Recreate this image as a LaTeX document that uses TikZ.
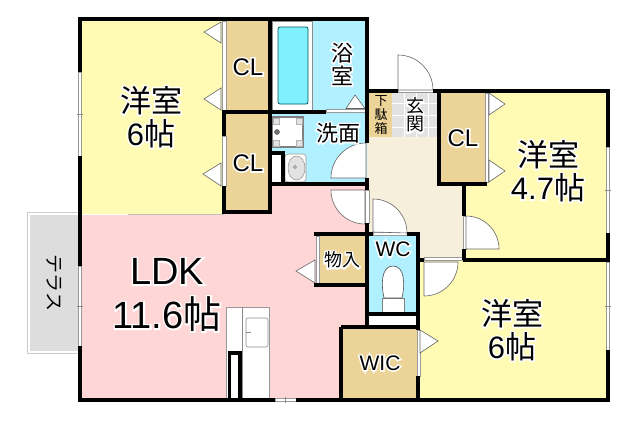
\documentclass[tikz,border=0pt]{standalone}
\usepackage{fontspec}
\setmainfont{Liberation Sans}
\newfontfamily\cjk{Noto Sans CJK JP}
\usetikzlibrary{backgrounds}
\pgfdeclarelayer{filllayer}
\pgfdeclarelayer{doorlayer}
\pgfdeclarelayer{walllayer}
\pgfsetlayers{filllayer,doorlayer,walllayer,main}
\newcommand{\lb}[1]{\leavevmode\rlap{\special{pdf:code q 1 Tr 1 1 1 RG 3 w}#1\special{pdf:code Q}}#1}
\definecolor{roomyellow}{RGB}{255,250,180}
\definecolor{ldkpink}{RGB}{255,214,214}
\definecolor{cltan}{RGB}{236,211,152}
\definecolor{wetblue}{RGB}{176,240,255}
\definecolor{tubblue}{RGB}{128,240,255}
\definecolor{hallcream}{RGB}{246,239,220}
\definecolor{tilegray}{RGB}{226,226,226}
\definecolor{terracegray}{RGB}{221,221,221}
\tikzstyle{none}=[inner sep=0pt,outer sep=0pt,align=center]
\tikzstyle{wall}=[line width=4pt,line cap=butt,line join=miter,black]
\tikzstyle{door}=[fill=white,draw=black!60,line width=0.6pt]
\tikzstyle{strip}=[fill=white,draw=black!40,line width=0.6pt]
\tikzstyle{thinline}=[draw=black!45,line width=0.6pt]
\tikzstyle{bigtext}=[none,font=\fontsize{31}{33}\selectfont]
\tikzstyle{cltext}=[none,font=\fontsize{24}{24}\selectfont]

\begin{document}
\begin{tikzpicture}[x=1pt,y=-1pt]
	\useasboundingbox (0,0) rectangle (640,421);
	\begin{pgfonlayer}{filllayer}
		\fill[roomyellow] (80,19) rectangle (224,214);
		\fill[ldkpink] (80,215) -- (224,215) -- (224,212) -- (270,212) -- (270,184) -- (367,184) -- (367,327) -- (341,327) -- (341,400) -- (80,400) -- cycle;
		\fill[wetblue] (270,19) rectangle (367,184);
		\fill[hallcream] (367,137) -- (439,137) -- (439,184) -- (464,184) -- (464,260) -- (418,260) -- (418,234) -- (367,234) -- cycle;
		\fill[cltan] (367,91) rectangle (392,137);
		\fill[tilegray] (392,91) rectangle (439,137);
		\foreach \tx in {404,416,428}
			\draw[white,line width=0.5pt] (\tx,93) -- (\tx,137);
		\foreach \ty in {103,115,127}
			\draw[white,line width=0.5pt] (392,\ty) -- (437,\ty);
		\fill[roomyellow] (464,184) -- (487,184) -- (487,91) -- (608,91) -- (608,260) -- (464,260) -- cycle;
		\fill[roomyellow] (418,260) rectangle (608,400);
		\fill[cltan] (224,19) rectangle (270,110);
		\fill[cltan] (224,112) rectangle (270,212);
		\fill[cltan] (439,91) rectangle (487,184);
		\fill[cltan] (316,234) rectangle (367,285);
		\fill[cltan] (341,327) rectangle (418,400);
		\fill[wetblue] (367,234) rectangle (418,314);
		\fill[white] (367,314) rectangle (418,327);
		\filldraw[fill=white,draw=black!20,line width=0.6pt] (27.5,212.5) rectangle (78,353.5);
		\fill[terracegray] (30,215) rectangle (78,351);
		\draw[black!25,line width=0.6pt] (128,214.5) -- (224,214.5);
	\end{pgfonlayer}
	\begin{pgfonlayer}{doorlayer}
		\filldraw[fill=white,draw=black!45,line width=0.6pt] (272,21) rectangle (312,110);
		\filldraw[fill=tubblue,draw=teal!70!black,line width=0.8pt,rounded corners=2pt] (278,27) rectangle (308,104);
		\filldraw[strip] (326,109.5) rectangle (365,112);
		\filldraw[door] (346,108.5) -- (355,95) -- (365,108.5) -- cycle;
		\filldraw[fill=white,draw=black!50,line width=1.2pt] (272.5,117) rectangle (303,147);
		\foreach \px/\py in {273/118,296/118,273/140,296/140}
			\filldraw[fill=tilegray,draw=black!30,line width=0.4pt] (\px,\py) rectangle +(6,6);
		\filldraw[fill=black!55,draw=black!70,line width=0.4pt] (277,132) circle (2.5);
		\fill[white] (272,155) rectangle (282,182);
		\filldraw[fill=white,draw=black!40,line width=0.6pt,rounded corners=3pt] (285,154) rectangle (306,182);
		\filldraw[fill=tilegray,draw=black!45,line width=0.5pt] (296.5,168) ellipse (8.5 and 12);
		\draw[black!55,line width=0.5pt] (295,167) circle (1.5);
		\filldraw[strip] (222,21) rectangle (226,110);
		\filldraw[strip] (222,136) rectangle (226,186);
		\filldraw[door] (221,22) -- (204,32) -- (221,43) -- cycle;
		\filldraw[door] (221,88) -- (204,99) -- (221,110) -- cycle;
		\filldraw[door] (221,163) -- (203,174) -- (221,186) -- cycle;
		\filldraw[strip] (485,93) rectangle (488,182);
		\filldraw[door] (489,93) -- (505,104) -- (489,115) -- cycle;
		\filldraw[door] (489,160) -- (505,171) -- (489,182) -- cycle;
		\filldraw[strip] (316,236) rectangle (319,284);
		\filldraw[door] (315,260) -- (296,271) -- (315,283) -- cycle;
		\filldraw[strip] (417,330) rectangle (420,376);
		\filldraw[door] (420,330) -- (438,341) -- (420,353) -- cycle;
		\filldraw[strip] (398,89) rectangle (433,92);
		\filldraw[door] (398,55) arc[start angle=270,end angle=360,radius=35] -- (398,90) -- cycle;
		\filldraw[door] (366,143) -- (366,178) -- (331,178) arc[start angle=180,end angle=270,radius=35] -- cycle;
		\filldraw[strip] (365.5,190) rectangle (369,223);
		\filldraw[door] (331,190) arc[start angle=180,end angle=90,radius=34] -- (365,190) -- cycle;
		\filldraw[strip] (373,232) rectangle (407,235);
		\filldraw[door] (373,199) arc[start angle=270,end angle=360,radius=34] -- (373,232) -- cycle;
		\filldraw[strip] (463,216) rectangle (466,249);
		\filldraw[door] (466,216) arc[start angle=270,end angle=360,radius=33] -- (466,249) -- cycle;
		\filldraw[strip] (424,257) rectangle (463,260);
		\filldraw[door] (458,262) arc[start angle=0,end angle=90,radius=34] -- (424,262) -- cycle;
		\filldraw[strip] (78.5,72) rectangle (81.5,156);
		\draw[thinline] (77,114) -- (83,114);
		\filldraw[strip] (78.5,266) rectangle (81.5,346);
		\draw[thinline] (77,306) -- (83,306);
		\filldraw[strip] (606.5,147) rectangle (609.5,233);
		\draw[thinline] (605,190) -- (611,190);
		\filldraw[strip] (606.5,262) rectangle (609.5,350);
		\draw[thinline] (605,306) -- (611,306);
		\filldraw[strip] (275,398.5) rectangle (296,401.5);
		\draw[thinline] (285.5,397) -- (285.5,403);
		\filldraw[fill=white,draw=black!40,line width=0.6pt] (226,307) rectangle (269,398);
		\draw[thinline] (242,307) -- (242,398);
		\draw[thinline,rounded corners=2pt] (246,318) rectangle (268,347);
		\draw[thinline] (246,332.5) -- (251,332.5);
		\filldraw[fill=white,draw=black!50,line width=0.6pt] (382,298) -- (382,312) -- (404,312) -- (404,298) -- cycle;
		\filldraw[fill=white,draw=black!70,line width=0.6pt] (384,298) .. controls (381,285) and (381,266) .. (393,266) .. controls (405,266) and (405,285) .. (402,298) -- cycle;
	\end{pgfonlayer}
	\begin{pgfonlayer}{walllayer}
		\draw[wall] (80,72) -- (80,19) -- (367,19) -- (367,143);
		\draw[wall] (367,178) -- (367,190);
		\draw[wall] (367,91) -- (398,91);
		\draw[wall] (433,91) -- (608,91) -- (608,147);
		\draw[wall] (608,233) -- (608,262);
		\draw[wall] (608,350) -- (608,400) -- (296,400);
		\draw[wall] (275,400) -- (80,400) -- (80,346);
		\draw[wall] (80,266) -- (80,156);
		\draw[wall] (270,19) -- (270,214);
		\draw[wall] (222,112) -- (326,112);
		\draw[wall] (224,112) -- (224,136);
		\draw[wall] (224,186) -- (224,212) -- (272,212);
		\draw[wall] (268,184) -- (369,184);
		\draw[wall] (272,153) -- (283,153) -- (283,184);
		\draw[wall] (439,91) -- (439,184) -- (487,184);
		\draw[wall] (464,184) -- (464,216);
		\draw[wall] (464,249) -- (464,260);
		\draw[wall] (463,260) -- (608,260);
		\draw[wall] (418,260) -- (424,260);
		\draw[wall] (407,234) -- (418,234) -- (418,330);
		\draw[wall] (365,234) -- (373,234);
		\draw[wall] (418,376) -- (418,400);
		\draw[wall] (314,234) -- (367,234);
		\draw[wall] (314,285) -- (367,285);
		\draw[wall] (367,223) -- (367,327);
		\draw[wall] (367,314) -- (418,314);
		\draw[wall] (341,327) -- (418,327);
		\draw[wall] (341,327) -- (341,400);
		\draw[wall,line width=3.5pt] (229.5,399) -- (229.5,353) -- (240,353) -- (240,399);
	\end{pgfonlayer}
	\node [bigtext] (room1) at (151,117) {\lb{\cjk 洋室}\\\lb{6\cjk 帖}};
	\node [bigtext] (room2) at (548,171) {\lb{\cjk 洋室}\\\lb{4.7\cjk 帖}};
	\node [bigtext] (room3) at (512,330) {\lb{\cjk 洋室}\\\lb{6\cjk 帖}};
	\node [none,font=\fontsize{38}{44}\selectfont] (ldk) at (167,295) {\lb{LDK}\\\lb{11.6\cjk 帖}};
	\node [cltext] (cl1) at (248,67) {\lb{CL}};
	\node [cltext] (cl2) at (248,163) {\lb{CL}};
	\node [cltext] (cl3) at (463,138) {\lb{CL}};
	\node [none,font=\fontsize{22}{23}\selectfont] (bath) at (342,64) {\lb{\cjk 浴}\\\lb{\cjk 室}};
	\node [none,font=\fontsize{22}{23}\selectfont] (wash) at (338,133) {\lb{\cjk 洗面}};
	\node [none,font=\fontsize{18}{18}\selectfont] (genkan) at (415,115) {\lb{\cjk 玄}\\\lb{\cjk 関}};
	\node [none,font=\fontsize{13}{14}\selectfont] (shoe) at (381,115) {\cjk 下\\\cjk 駄\\\cjk 箱};
	\node [none,font=\fontsize{21}{21}\selectfont] (wc) at (393,249) {\lb{WC}};
	\node [none,font=\fontsize{21}{21}\selectfont] (wic) at (380,363) {\lb{WIC}};
	\node [none,font=\fontsize{18}{18}\selectfont] (store) at (342,260) {\lb{\cjk 物入}};
	\node [none,rotate=-90,font=\fontsize{19}{19}\selectfont] (terrace) at (54,283) {\cjk テラス};
\end{tikzpicture}
\end{document}
